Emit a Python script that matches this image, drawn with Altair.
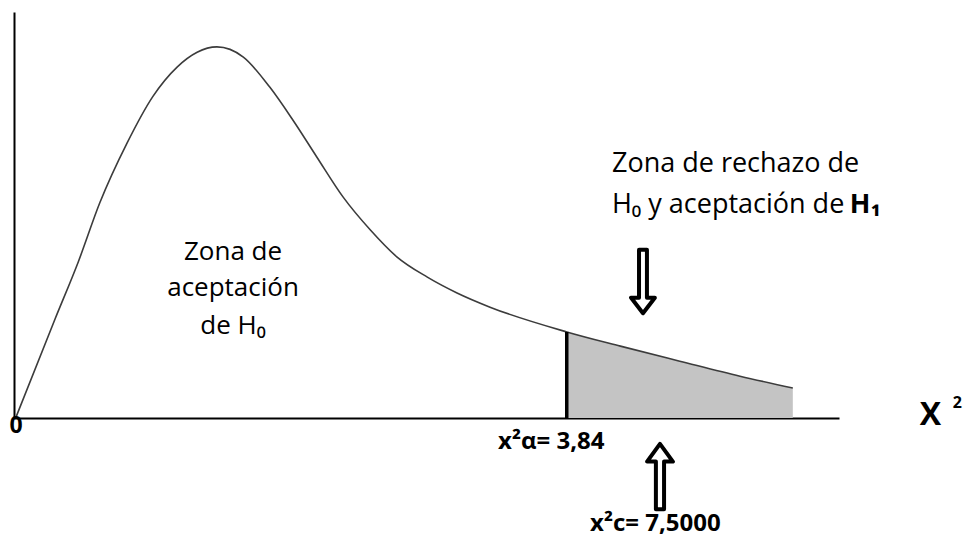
import altair as alt
import pandas as pd

# Curve (x in arbitrary chi-square units 0-10, y relative density 0-1)
curve_x = [0.02, 0.50, 0.78, 1.04, 1.37, 1.68, 1.98, 2.22, 2.46, 2.78, 3.10, 3.38,
           3.67, 3.99, 4.32, 4.64, 5.01, 5.37, 5.77, 6.70, 7.35, 8.07, 8.80, 9.44]
curve_y = [0.0, 0.245, 0.385, 0.530, 0.677, 0.791, 0.865, 0.901, 0.914, 0.889, 0.815,
           0.734, 0.643, 0.544, 0.463, 0.397, 0.347, 0.308, 0.273, 0.212, 0.177, 0.140,
           0.103, 0.074]
critical_x = 6.70
critical_y = 0.212

accept_labels = ["Zona de", "aceptación", "de H₀"]
accept_x = [2.655, 2.655, 2.655]
accept_y = [0.389, 0.300, 0.207]

reject_labels = ["Zona de rechazo de", "H₀ y aceptación de"]
reject_x = [7.248, 7.248]
reject_y = [0.606, 0.505]
reject_bold_label = ["H₁"]
reject_bold_x = [10.13]
reject_bold_y = [0.505]

bold_labels = ["x²α= 3,84", "x²c= 7,5000"]
bold_x = [5.867, 6.982]
bold_y = [-0.076, -0.278]

origin_label = ["0"]
origin_x = [0.024]
origin_y = [-0.037]

axis_label = ["X"]
axis_label_x = [10.98]
axis_label_y = [-0.017]
axis_sup = ["2"]
axis_sup_x = [11.38]
axis_sup_y = [0.025]

down_arrow_x = [7.624]
down_arrow_y = [0.337]
up_arrow_x = [7.830]
up_arrow_y = [-0.145]

curve = pd.DataFrame({"x": curve_x, "y": curve_y})
tail = curve[curve["x"] >= critical_x]

xs = alt.Scale(domain=[0, 10], nice=False, zero=False)
ys = alt.Scale(domain=[0, 1], nice=False, zero=False)

def X():
    return alt.X("x:Q", scale=xs, title=None)

def Y():
    return alt.Y("y:Q", scale=ys, title=None)

FONT = "Open Sans"

area = alt.Chart(tail).mark_area(color="#c4c4c4", interpolate="monotone").encode(x=X(), y=Y())
line = alt.Chart(curve).mark_line(color="#3c3c3c", strokeWidth=1.6, interpolate="monotone").encode(x=X(), y=Y())
crit = alt.Chart(pd.DataFrame({"x": [critical_x], "y": [0.0], "y2": [critical_y]})).mark_rule(
    color="black", strokeWidth=3.5).encode(x=X(), y=Y(), y2="y2:Q")

def texts(labels, xv, yv, **kw):
    df = pd.DataFrame({"x": xv, "y": yv, "label": labels})
    return alt.Chart(df).mark_text(baseline="alphabetic", font=FONT, color="black", **kw).encode(
        x=X(), y=Y(), text="label:N")

accept = texts(accept_labels, accept_x, accept_y, align="center", fontSize=26)
reject = texts(reject_labels, reject_x, reject_y, align="left", fontSize=27)
reject_b = texts(reject_bold_label, reject_bold_x, reject_bold_y, align="left", fontSize=27, fontWeight="bold")
bold = texts(bold_labels, bold_x, bold_y, align="left", fontSize=24, fontWeight="bold")
origin = texts(origin_label, origin_x, origin_y, align="center", fontSize=23, fontWeight="bold")
xlab = texts(axis_label, axis_label_x, axis_label_y, align="left", fontSize=32, fontWeight="bold")
xsup = texts(axis_sup, axis_sup_x, axis_sup_y, align="left", fontSize=16, fontWeight="bold")

down_path = "M -0.12 -0.95 L 0.12 -0.95 L 0.12 0.5 L 0.36 0.5 L 0 0.97 L -0.36 0.5 L -0.12 0.5 Z"
up_path = "M 0 -0.97 L 0.38 -0.45 L 0.12 -0.45 L 0.12 0.95 L -0.12 0.95 L -0.12 -0.45 L -0.38 -0.45 Z"

down = alt.Chart(pd.DataFrame({"x": down_arrow_x, "y": down_arrow_y})).mark_point(
    shape=down_path, size=4356, filled=False, color="black", strokeWidth=4, opacity=1,
    strokeJoin="round").encode(x=X(), y=Y())
up = alt.Chart(pd.DataFrame({"x": up_arrow_x, "y": up_arrow_y})).mark_point(
    shape=up_path, size=4624, filled=False, color="black", strokeWidth=4, opacity=1,
    strokeJoin="round").encode(x=X(), y=Y())

chart = alt.layer(area, line, crit, accept, reject, reject_b, bold, origin, xlab, xsup, down, up).properties(
    width=825, height=406,
    padding={"left": 6, "top": 4, "right": 124, "bottom": 121},
    autosize=alt.AutoSizeParams(type="none"),
    background="white",
).configure_view(stroke=None).configure_axis(
    domain=True, domainColor="black", domainWidth=2, ticks=False, labels=False, grid=False,
)

chart.save("out.html", embed_options={"renderer": "svg", "actions": False})
